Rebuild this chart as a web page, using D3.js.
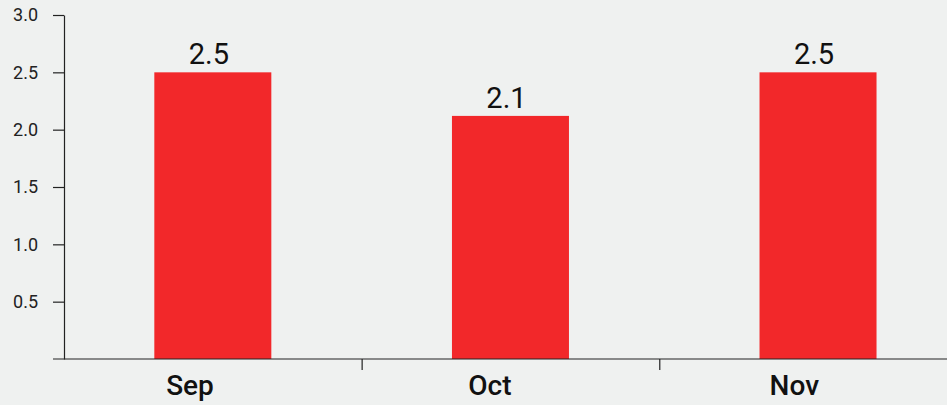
<!DOCTYPE html>
<html>
<head>
<meta charset="utf-8">
<script src="https://cdn.jsdelivr.net/npm/d3@7"></script>
<style>
  html, body { margin: 0; padding: 0; background: #eff1f0; }
  svg { display: block; font-family: Roboto, "Noto Sans", sans-serif; }
</style>
</head>
<body>
<div id="container"></div>
<script>
var width = 947,
    height = 405;

// data
var months = ["Sep", "Oct", "Nov"];
var monthDates = ["2023-09-01", "2023-10-01", "2023-11-01"];
var values = [2.5, 2.12, 2.5];
var valueLabels = ["2.5", "2.1", "2.5"];
var yTicks = [0.5, 1.0, 1.5, 2.0, 2.5, 3.0];

var margin = {top: 15, right: 0, bottom: 46, left: 64};
var barW = 117;

var parse = d3.timeParse("%Y-%m-%d");
var data = months.map(function (m, i) {
    return {month: m, date: parse(monthDates[i]), value: values[i], label: valueLabels[i]};
});

var svg = d3.select("#container").append("svg")
    .attr("width", width)
    .attr("height", height);

svg.append("rect")
    .attr("width", width)
    .attr("height", height)
    .attr("fill", "#eff1f0");

var x = d3.scaleTime()
    .domain([d3.timeDay.offset(data[0].date, -15), d3.timeDay.offset(data[2].date, 13)])
    .range([margin.left, width - margin.right]);

var y = d3.scaleLinear()
    .domain([0, 3])
    .range([height - margin.bottom, margin.top]);

// bars
svg.append("g").selectAll("rect")
    .data(data)
    .enter().append("rect")
    .attr("x", function (d) { return x(d.date) - barW / 2; })
    .attr("y", function (d) { return y(d.value); })
    .attr("width", barW)
    .attr("height", function (d) { return y(0) - y(d.value); })
    .attr("fill", "#f2282a");

// y axis
var yAxis = svg.append("g")
    .attr("transform", "translate(" + margin.left + ",0)")
    .call(d3.axisLeft(y).tickValues(yTicks).tickFormat(d3.format(".1f"))
        .tickSize(11).tickSizeOuter(0).tickPadding(15));
yAxis.select(".domain").attr("stroke", "#222").attr("stroke-width", 1.2);
yAxis.selectAll(".tick line").attr("stroke", "#222").attr("stroke-width", 1.2);
yAxis.selectAll(".tick text")
    .attr("fill", "#222")
    .style("font-size", "18px")
    .style("font-family", "Roboto, sans-serif");

// x axis
var xTicks = data.slice(0, 2).map(function (d) { return d3.timeDay.offset(d.date, 15); });
var xAxis = svg.append("g")
    .attr("transform", "translate(0," + y(0) + ")")
    .call(d3.axisBottom(x).tickValues(xTicks).tickFormat("").tickSize(11).tickSizeOuter(0));
xAxis.select(".domain")
    .attr("d", "M" + (x.range()[0] - 11) + ",0H" + x.range()[1])
    .attr("stroke", "#222").attr("stroke-width", 1.2);
xAxis.selectAll(".tick line").attr("stroke", "#222").attr("stroke-width", 1.2);

// month labels
svg.append("g").selectAll("text")
    .data(data)
    .enter().append("text")
    .attr("x", function (d) { return x(d.date) + 1; })
    .attr("y", y(0) + 36)
    .attr("text-anchor", "end")
    .attr("fill", "#111")
    .style("font-size", "28px")
    .style("font-weight", 500)
    .text(function (d) { return d.month; });

// value labels
svg.append("g").selectAll("text")
    .data(data)
    .enter().append("text")
    .attr("x", function (d) { return x(d.date) - 4; })
    .attr("y", function (d) { return y(d.value) - 8; })
    .attr("text-anchor", "middle")
    .attr("fill", "#111")
    .style("font-size", "29px")
    .text(function (d) { return d.label; });
</script>
</body>
</html>
